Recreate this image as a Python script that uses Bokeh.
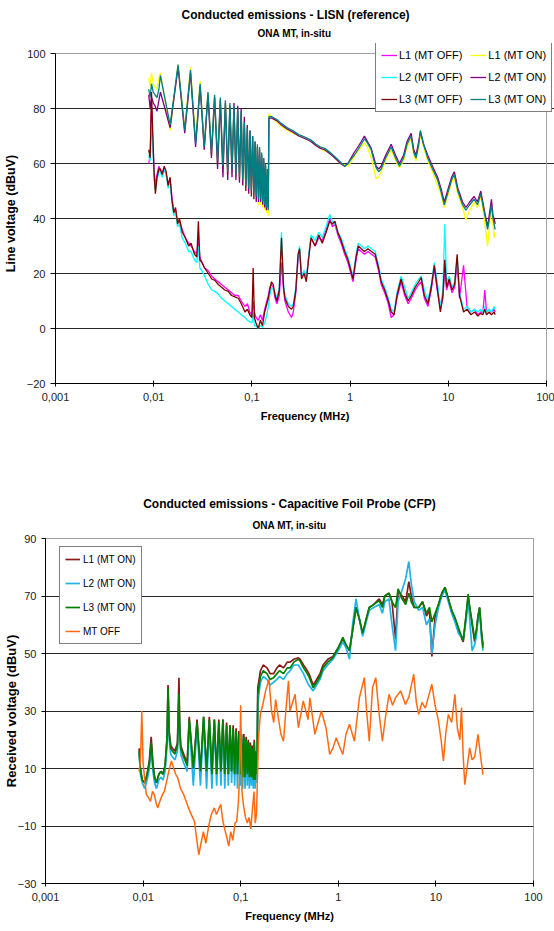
from bokeh.plotting import figure
from bokeh.models import FixedTicker, Legend, LegendItem, Title, CustomJSTickFormatter
from bokeh.layouts import column
from bokeh.embed import file_html
from bokeh.resources import INLINE

FONT = "Liberation Sans"

# ---------------- axis ticks ----------------
x_ticks = [0.001, 0.01, 0.1, 1, 10, 100]
x_tick_labels = ["0,001", "0,01", "0,1", "1", "10", "100"]
lisn_y_ticks = [-20, 0, 20, 40, 60, 80, 100]
cfp_y_ticks = [-30, -10, 10, 30, 50, 70, 90]

# ---------------- LISN chart: MT ON traces ----------------
freq_lisn_on = [
    0.0089, 0.0092, 0.0095, 0.0099, 0.0103, 0.0108, 0.0113, 0.0117,
    0.0147, 0.0177, 0.0207, 0.0237, 0.0267, 0.0297, 0.0327, 0.0357, 0.0387, 0.0417,
    0.0447, 0.0477, 0.0507, 0.0537, 0.0567, 0.0597, 0.0627, 0.0657, 0.0687, 0.0717,
    0.0747, 0.0777, 0.0807, 0.0837, 0.0867, 0.0897, 0.0927, 0.0957, 0.0987, 0.1017,
    0.1047, 0.1077, 0.1107, 0.1137, 0.1167, 0.1197, 0.1227, 0.1257, 0.1287, 0.1317,
    0.1347, 0.1377, 0.1407, 0.1437, 0.1467,
    0.149, 0.16, 0.18, 0.2, 0.23, 0.26, 0.3, 0.35, 0.4, 0.45,
    0.5, 0.55, 0.6, 0.65, 0.7, 0.8, 0.88, 0.95, 1.02, 1.1,
    1.2, 1.3, 1.4, 1.5, 1.64, 1.75, 1.84, 1.95, 2.07, 2.3,
    2.62, 2.9, 3.18, 3.5, 3.8, 4.18, 4.45, 4.69, 5.0, 5.19,
    5.6, 6.17, 6.9, 7.78, 8.4, 9.1, 10.0, 10.8, 11.5, 12.5,
    13.96, 15.1, 16.5, 18.3, 19.8, 21.4, 23.0, 25.1, 26.5, 27.5,
    28.5, 29.2, 30.0,
]
lisn_l1_on = [
    91, 88, 93, 89, 88, 87, 91, 93,
    72, 96, 73, 95, 68, 90, 65, 86, 63, 84,
    60, 83, 58, 82, 56, 81, 56, 80, 55, 79,
    54, 78, 52, 74, 50, 72, 49, 71, 48, 69,
    47, 67, 46, 66, 45, 65, 45, 63, 44, 61,
    43, 59, 42, 57, 41,
    78, 76.5, 75, 73.5, 72, 71, 70, 69, 68, 66.5,
    65.5, 64.5, 64, 63, 62, 60, 59.5, 59, 60.5, 62.5,
    64.5, 66, 67.5, 66, 62, 58, 54.5, 55, 57, 61,
    65, 61, 58.5, 61, 66, 69, 63, 61, 66, 70.5,
    66, 61, 57, 52, 49, 44, 49, 53, 55, 49,
    44, 39.5, 43, 46, 44, 48, 41, 30, 39, 43,
    38, 33, 35,
]
lisn_l2_on = [
    85, 80, 84, 82, 81, 79, 83, 86,
    73, 95, 71, 93, 66, 88, 65, 85, 62, 84,
    58, 83, 55, 82, 54, 81, 55, 82, 54, 81,
    53, 80, 52, 77, 50, 74, 49, 72, 48, 70,
    47, 68, 46, 66, 46, 65, 46, 63, 45, 62,
    44, 59, 43, 56, 44,
    76.5, 76.5, 75.5, 74, 72.5, 71.5, 70, 69, 68, 66.5,
    65.5, 65, 64, 63, 62, 60, 59, 60, 62, 64,
    66, 68, 70, 68, 65.5, 62, 59, 58, 59, 63,
    67, 63, 60, 63, 68, 71, 65, 63, 68, 71.5,
    67, 63, 59, 55, 51, 46, 51, 55, 57, 51,
    46, 44, 46, 48, 46, 50, 44, 37, 43, 47,
    41, 40, 38,
]
lisn_l3_on = [
    87, 84, 89, 86, 85, 84, 87, 92,
    74, 96, 72, 94, 67, 89, 66, 86, 64, 85,
    61, 84, 59, 83, 57, 82, 58, 81, 56, 80,
    55, 79, 54, 75, 52, 73, 51, 72, 50, 70,
    49, 68, 48, 67, 47, 66, 47, 64, 46, 62,
    45, 60, 44, 58, 43,
    77, 77, 76, 74.5, 73, 72, 70.5, 69.5, 68.5, 67,
    66, 65.5, 64.5, 63.5, 62.5, 60.5, 59, 60, 61.5, 63,
    65, 67, 69, 67.5, 65, 61, 58.5, 57, 58, 62,
    66, 62, 59, 62, 67, 70, 64, 62, 67, 72,
    67, 62, 58, 54, 50, 45, 50, 54, 56, 50,
    45, 43, 45, 47, 45, 49, 43, 36, 41, 45,
    40, 38, 36,
]

# ---------------- LISN chart: MT OFF traces ----------------
freq_lisn_off = [
    0.0089, 0.0092, 0.0095, 0.0098, 0.0101, 0.0104, 0.0108, 0.0113, 0.0117, 0.0122,
    0.0128, 0.0134, 0.014, 0.0147, 0.0153, 0.016, 0.0167, 0.0175, 0.0183, 0.0195,
    0.021, 0.0227, 0.024, 0.026, 0.0275, 0.0285, 0.0295, 0.031, 0.033, 0.036,
    0.039, 0.042, 0.0455, 0.049, 0.053, 0.0575, 0.062, 0.067, 0.0727, 0.078,
    0.085, 0.09, 0.095, 0.1, 0.103, 0.106, 0.11, 0.116, 0.122, 0.128,
    0.135, 0.142, 0.147, 0.152, 0.158, 0.165, 0.172, 0.18, 0.19, 0.2,
    0.21, 0.217, 0.235, 0.253, 0.264, 0.28, 0.295, 0.306, 0.32, 0.34,
    0.358, 0.38, 0.4, 0.44, 0.48, 0.52, 0.57, 0.62, 0.66, 0.7,
    0.75, 0.81, 0.88, 0.95, 1.0, 1.07, 1.15, 1.21, 1.3, 1.4,
    1.52, 1.65, 1.8, 1.95, 2.07, 2.25, 2.45, 2.62, 2.8, 3.0,
    3.3, 3.6, 3.9, 4.2, 4.6, 5.0, 5.3, 5.7, 6.2, 6.7,
    7.2, 7.7, 8.3, 8.8, 9.2, 9.6, 10.2, 10.9, 11.6, 12.3,
    13.0, 14.3, 15.5, 17.0, 18.5, 20.0, 21.4, 22.5, 23.5, 24.5,
    26.0, 27.5, 29.2, 30.0,
]
lisn_l1_off = [
    60, 63, 80, 68, 57, 52, 56, 59, 57, 57,
    58, 56, 53, 54, 48, 43, 43, 39, 39, 36,
    33, 31, 30, 28, 27, 33, 26, 24, 22, 21,
    19, 18, 17, 16, 15, 14, 13, 12, 12, 10,
    8, 9, 6, 5, 10, 6, 4, 3, 5, 3,
    7, 10, 12, 15, 16, 15, 11, 9, 12, 24,
    14, 10, 6, 4, 6, 13, 25, 28, 19, 21,
    18, 27, 33, 30, 33, 32, 36, 40, 37, 38,
    34, 31, 27, 24, 21, 17, 25, 29, 28, 27,
    28, 27, 26, 21, 16, 13, 9, 4, 5, 11,
    17, 12, 9, 11, 14, 16, 17, 11, 8, 14,
    22, 14, 7, 11, 22, 14, 17, 13, 15, 24,
    11, 23, 8, 6, 7, 5, 6, 6, 14, 6,
    7, 6, 7, 6,
]
lisn_l2_off = [
    63, 61, 75, 66, 55, 50, 54, 57, 57, 55,
    58, 56, 51, 54, 46, 41, 42, 37, 38, 33,
    31, 28, 28, 25, 24, 30, 22, 21, 19, 16,
    14, 13.5, 12.5, 11, 10, 9, 8, 7, 6, 5,
    4, 3, 2.5, 2, 6, 1, 1, 0, 1, 0.5,
    2, 5, 8, 12, 15, 14, 13, 11, 15, 35,
    16, 12, 9, 8, 9, 15, 26, 30, 19, 21,
    18, 27, 34, 32, 35, 33, 37, 41.5, 39, 38,
    35, 33, 29, 26, 23, 19, 27, 31, 30, 29,
    30, 29, 28, 23, 18, 15, 11, 7, 6, 13,
    19, 15, 11, 13, 16, 18, 19, 14, 10, 16,
    24, 17, 8, 14, 38, 17, 19, 15, 17, 26,
    13, 7, 8, 6, 7, 6, 7, 6, 8, 6,
    7, 6, 8, 7,
]
lisn_l3_off = [
    65, 62, 86, 70, 56, 49, 55, 58, 58, 56,
    59, 57, 52, 55, 47, 42, 44, 38, 40, 35,
    33, 30, 31, 27, 26, 39, 25, 24, 22, 20,
    18, 17.5, 16, 15, 14, 13.5, 12, 11.5, 11, 9,
    6, 7, 5, 4, 22, 4, 2, 0, 3, 1,
    6, 9, 11, 14, 17, 16, 12, 10, 14, 33,
    15, 11, 8, 7, 8, 14, 27, 29, 18, 20,
    17, 26, 33, 30, 34, 31, 35, 39, 38, 39,
    35, 32, 28, 25, 22, 18, 26, 30, 29, 28,
    29, 28, 27, 22, 17, 14, 10, 6, 5, 12,
    18, 13, 10, 12, 15, 17, 18.5, 12, 9, 15,
    23, 15, 6, 12, 25, 15, 18, 14, 16, 27,
    12, 6, 7, 5, 6, 4.5, 5.5, 5, 7, 5,
    6, 5, 6, 5,
]

# ---------------- CFP chart: MT ON traces ----------------
freq_cfp_on = [
    0.0091, 0.0094, 0.0098, 0.0104, 0.011, 0.0116, 0.0121, 0.0126, 0.0131, 0.0137,
    0.0145, 0.0152, 0.016, 0.0168, 0.0176, 0.018, 0.0185, 0.0192, 0.02, 0.0212,
    0.0225, 0.0233, 0.0237, 0.0243, 0.026, 0.0283,
    0.0297, 0.0327, 0.0357, 0.0387, 0.0417, 0.0447, 0.0477, 0.0507, 0.0537, 0.0567,
    0.0597, 0.0627, 0.0657, 0.0687, 0.0717, 0.0747, 0.0777, 0.0807, 0.0837, 0.0867,
    0.0897, 0.0927, 0.0957, 0.0987, 0.1017, 0.1047, 0.1077, 0.1107, 0.1137, 0.1167,
    0.1197, 0.1227, 0.1257, 0.1287, 0.1317, 0.1347, 0.1377, 0.1407, 0.1437, 0.1467,
    0.1497, 0.1594, 0.17, 0.186, 0.2, 0.2175, 0.235, 0.25, 0.2746, 0.3,
    0.3211, 0.35, 0.3897, 0.4055, 0.44, 0.48, 0.5, 0.5528, 0.6, 0.65,
    0.698, 0.78, 0.8816, 1.0, 1.113, 1.2, 1.302, 1.4, 1.519, 1.644,
    1.775, 1.9, 2.076, 2.3, 2.62, 2.83, 3.0, 3.3, 3.55, 3.86,
    4.1, 4.5, 4.9, 5.278, 5.6, 6.0, 6.66, 7.3, 8.0, 8.6,
    9.09, 9.82, 10.63, 11.5, 12.4, 13.42, 14.5, 15.65, 17.0, 19.04,
    20.5, 21.4, 22.2, 23.5, 24.96, 26.0, 27.02, 28.04, 29.2, 30.36,
]
cfp_l1_on = [
    17, 10, 6, 5, 8, 13, 21, 12, 7, 5,
    8, 9, 8, 11, 21, 39, 23, 18, 17, 16,
    19, 41.6, 26, 18, 15, 12,
    28, 10, 27, 9, 28, 9, 28, 8, 27, 8,
    27, 9, 27, 8, 26, 8, 25, 9, 25, 8,
    24, 8, 23, 8, 22, 7, 22, 7, 21, 8,
    20, 7, 19, 7, 18, 6, 20, 6, 16, 8,
    38, 44, 46, 45, 43, 43, 45, 46, 45, 47,
    47, 48, 48.5, 48, 46, 44, 43, 39, 41, 43,
    46, 48, 49, 52, 55, 53, 51, 58, 66, 62,
    57, 61, 66, 67, 69, 67, 70, 71, 68, 55,
    72, 70, 68, 75, 70, 66, 66, 68, 63, 65,
    49, 63, 67, 71, 73, 69, 65, 62, 58, 54,
    64, 70, 66, 60, 54, 58, 63, 66, 58, 53,
]
cfp_l2_on = [
    15, 8, 5, 3, 6, 10, 17, 9, 5, 3,
    6, 7, 6, 9, 18, 36, 20, 15, 14, 13,
    16, 33, 22, 15, 12, 9,
    26, 4, 25, 4, 27, 3, 26, 3, 26, 4,
    25, 4, 26, 3, 24, 4, 24, 5, 23, 4,
    22, 3, 21, 4, 21, 3, 20, 3, 19, 4,
    18, 3, 17, 4, 16, 3, 18, 3, 14, 5,
    33, 40, 42, 41, 39, 40, 41, 42, 41, 43,
    44, 46, 46, 45, 43, 40, 39, 37, 39, 41,
    44, 46, 48, 51, 54, 52, 48, 60, 69, 62,
    56, 60, 65, 66, 67, 64, 68, 69, 60, 51,
    68, 72, 76, 82, 74, 68, 65, 66, 60, 62,
    50, 60, 66, 70, 72, 68, 64, 61, 57, 55,
    62, 69, 62, 51, 53, 56, 62, 65, 56, 51,
]
cfp_l3_on = [
    16, 9, 6, 5, 8, 12, 19, 11, 7, 5,
    8, 9, 8, 11, 20, 38, 22, 17, 16, 15,
    18, 36, 24, 17, 14, 11,
    27, 10, 26, 9, 28, 9, 27, 8, 27, 8,
    26, 9, 27, 8, 25, 8, 25, 9, 24, 8,
    23, 8, 22, 8, 22, 7, 21, 7, 20, 8,
    19, 7, 18, 7, 17, 6, 19, 6, 15, 8,
    36, 42, 44, 43, 41, 41.6, 43, 44, 43, 45,
    45, 47, 48, 47.4, 45, 43, 42, 38.1, 40, 42,
    45, 47, 48.6, 52, 55.6, 53, 51, 58, 66, 62,
    57, 61, 66, 67, 68.4, 66, 70, 71, 68, 66,
    72.5, 69, 67, 71, 68, 66, 66, 68, 64, 66,
    61, 64, 67, 71, 73, 69, 65, 62.6, 59, 54.4,
    64, 70.7, 66, 61, 55, 58, 63, 66, 58, 52,
]

# ---------------- CFP chart: MT OFF trace ----------------
freq_cfp_off = [
    0.0091, 0.0094, 0.0097, 0.01, 0.0104, 0.0108, 0.0113, 0.0119, 0.0125, 0.013,
    0.0136, 0.0141, 0.015, 0.0158, 0.0165, 0.0173, 0.0183, 0.0195, 0.0206, 0.0216,
    0.0226, 0.0242, 0.026, 0.028, 0.0302, 0.0336, 0.0352, 0.0372, 0.0392, 0.0415,
    0.044, 0.047, 0.05, 0.0536, 0.0565, 0.0595, 0.0625, 0.0655, 0.0685, 0.072,
    0.0755, 0.079, 0.083, 0.0875, 0.091, 0.0945, 0.097, 0.1, 0.103, 0.107,
    0.112, 0.117, 0.122, 0.127, 0.132, 0.137, 0.141, 0.145, 0.148, 0.152,
    0.159, 0.168, 0.18, 0.195, 0.207, 0.218, 0.228, 0.242, 0.258, 0.2746,
    0.29, 0.3087, 0.32, 0.3608, 0.39, 0.4378, 0.49, 0.512, 0.5752, 0.671,
    0.75, 0.8165, 0.88, 0.952, 1.02, 1.113, 1.2, 1.302, 1.463, 1.644,
    1.847, 1.95, 2.076, 2.242, 2.421, 2.6, 2.83, 3.05, 3.31, 3.6,
    3.86, 4.35, 4.875, 5.3, 5.93, 6.3, 6.66, 7.2, 7.8, 8.4,
    9.09, 9.8, 10.63, 11.3, 11.94, 12.6, 13.42, 14.5, 15.65, 16.6,
    17.6, 18.3, 19.0, 19.76, 20.8, 22.2, 23.5, 24.96, 26.0, 27.02,
    28.5, 30.36,
]
cfp_mt_off = [
    9, 13, 30, 12, 6, 1, 0, -1.4, 2, 1,
    -2, -3.7, -1, 1, 2, 5, 9, 12.6, 10, 8,
    6.8, 3, 1, -2, -5, -8.4, -14, -20, -16, -12,
    -16, -10, -6, -3.7, -6, -4, -2.5, -8, -11, -14,
    -17, -12, -15, -9, -8.4, -2, 5.6, 32, 2, -3,
    -7, -9, -7, -11, -4, 2, -9, -6, 5, 20,
    29, 32, 37, 41, 30, 26, 34, 28, 22, 19.5,
    30, 40.5, 30, 35.8, 24.2, 33.5, 27, 34.6, 21.9, 30,
    24, 14.9, 17, 20.7, 18, 14.9, 22, 25.4, 19.5, 34.6,
    41.6, 30, 19.5, 38.1, 41.6, 30, 19.5, 28, 35.8, 32,
    34.6, 37, 32.3, 35, 42.8, 33, 28.8, 33, 31, 35,
    39.3, 32, 26.5, 20, 12.6, 22, 28.8, 26, 35.8, 24,
    20, 31.2, 15, 4.4, 10, 17.2, 13, 14, 18, 21.9,
    15, 7.9,
]

FRAME_GRAY = "#a0a0a0"


def style(p, yticks):
    p.background_fill_color = "white"
    p.border_fill_color = "white"
    # each chart keeps its own plot-area geometry (no alignment across the column)
    if "frame_align" in p.properties():
        p.frame_align = False
    p.xaxis.ticker = FixedTicker(ticks=x_ticks)
    p.xaxis.formatter = CustomJSTickFormatter(
        args=dict(tvals=x_ticks, tlabs=x_tick_labels),
        code="""
        for (let i = 0; i < tvals.length; i++) {
            if (Math.abs(Math.log10(tvals[i]) - Math.log10(tick)) < 1e-6) return tlabs[i];
        }
        return "";
        """)
    p.yaxis.ticker = FixedTicker(ticks=yticks)
    for ax in (p.xaxis[0], p.yaxis[0]):
        ax.axis_line_color = "black"
        ax.major_tick_line_color = "black"
        ax.minor_tick_line_color = None
        ax.major_label_text_font = FONT
        ax.major_label_text_font_size = "11px"
        ax.major_label_text_color = "#222222"
        ax.axis_label_text_font = FONT
        ax.axis_label_text_font_size = "11px"
        ax.axis_label_text_font_style = "bold"
        ax.axis_label_text_color = "black"
    p.xaxis.major_tick_in = 3
    p.xaxis.major_tick_out = 3
    p.xaxis.major_label_standoff = 6
    p.xaxis.axis_label_standoff = 6
    p.yaxis.major_tick_in = 0
    p.yaxis.major_tick_out = 5
    p.yaxis.major_label_standoff = 5
    p.yaxis.axis_label_standoff = 3
    p.xgrid.grid_line_color = None
    # inner gridlines black; the top edge is the grey plot-area border
    p.ygrid.ticker = FixedTicker(ticks=yticks[1:-1])
    p.ygrid.grid_line_color = "black"
    p.ygrid.grid_line_width = 1
    p.ygrid.grid_line_alpha = 0.85


def add_titles(p, main, sub, sub_standoff, align="center", main_offset=0, sub_offset=0):
    p.add_layout(Title(text=sub, align=align, text_font=FONT, text_font_size="10px",
                       text_font_style="bold", text_color="black", offset=sub_offset,
                       standoff=sub_standoff), "above")
    p.add_layout(Title(text=main, align=align, text_font=FONT, text_font_size="12px",
                       text_font_style="bold", text_color="black", offset=main_offset,
                       standoff=0), "above")


# ================= top: LISN =================
# The frame is widened slightly (right and top) so the legend, which overhangs the
# plot area as in the reference, is not clipped; axes are bounded to the real area.
PX_PER_DECADE = 98.6
PX_PER_UNIT = 2.75
EXTRA_RIGHT = 8
EXTRA_TOP = 10
x_end_top = 10 ** (2 + EXTRA_RIGHT / PX_PER_DECADE)
y_end_top = lisn_y_ticks[-1] + EXTRA_TOP / PX_PER_UNIT

p1 = figure(width=554, height=465, x_axis_type="log", x_range=(0.001, x_end_top),
            y_range=(-20, y_end_top), output_backend="svg", toolbar_location=None,
            title=None, min_border_left=53, min_border_right=0,
            min_border_top=43, min_border_bottom=82)
style(p1, lisn_y_ticks)
p1.outline_line_color = None
p1.xaxis.bounds = (x_ticks[0], x_ticks[-1])
p1.yaxis.bounds = (lisn_y_ticks[0], lisn_y_ticks[-1])
p1.xaxis.axis_label = "Frequency (MHz)"
p1.yaxis.axis_label = "Line voltage (dBuV)"
p1.yaxis.axis_label_text_font_size = "12.5px"
p1.yaxis.axis_label_standoff = 6
add_titles(p1, "Conducted emissions - LISN (reference)", "ONA MT, in-situ", 9,
           align="left", main_offset=126, sub_offset=202)

# grey plot-area border: top and right edges
p1.segment(x0=[x_ticks[0], x_ticks[-1]], y0=[lisn_y_ticks[-1], lisn_y_ticks[0]],
           x1=[x_ticks[-1], x_ticks[-1]], y1=[lisn_y_ticks[-1], lisn_y_ticks[-1]],
           line_color=FRAME_GRAY, line_width=1)

lw = 1.3
r_l1_on = p1.line(freq_lisn_on, lisn_l1_on, line_color="#FFFF00", line_width=lw)
r_l2_on = p1.line(freq_lisn_on, lisn_l2_on, line_color="#800080", line_width=lw)
r_l3_on = p1.line(freq_lisn_on, lisn_l3_on, line_color="#008080", line_width=lw)
r_l1_off = p1.line(freq_lisn_off, lisn_l1_off, line_color="#FF00FF", line_width=lw)
r_l2_off = p1.line(freq_lisn_off, lisn_l2_off, line_color="#00FFFF", line_width=lw)
r_l3_off = p1.line(freq_lisn_off, lisn_l3_off, line_color="#800000", line_width=lw)

leg1 = Legend(items=[
    LegendItem(label="L1 (MT OFF)", renderers=[r_l1_off]),
    LegendItem(label="L2 (MT OFF)", renderers=[r_l2_off]),
    LegendItem(label="L3 (MT OFF)", renderers=[r_l3_off]),
    LegendItem(label="L1 (MT ON)", renderers=[r_l1_on]),
    LegendItem(label="L2 (MT ON)", renderers=[r_l2_on]),
    LegendItem(label="L3 (MT ON)", renderers=[r_l3_on]),
], ncols=2, location=(320, 271))
leg1.label_text_font = FONT
leg1.label_text_font_size = "11px"
leg1.label_text_color = "black"
leg1.border_line_color = "black"
leg1.border_line_width = 1
leg1.background_fill_color = "white"
leg1.background_fill_alpha = 1
leg1.glyph_width = 16
leg1.glyph_height = 14
leg1.label_height = 14
leg1.label_standoff = 2
leg1.spacing = 8
leg1.padding = 5
leg1.margin = 0
p1.add_layout(leg1)

# ================= bottom: CFP =================
p2 = figure(width=554, height=466, x_axis_type="log", x_range=(0.001, 100),
            y_range=(-30, 90), output_backend="svg", toolbar_location=None,
            title=None, min_border_left=39, min_border_right=21,
            min_border_top=73, min_border_bottom=48)
style(p2, cfp_y_ticks)
p2.outline_line_color = FRAME_GRAY
p2.outline_line_width = 1
p2.xaxis.axis_label = "Frequency (MHz)"
p2.yaxis.axis_label = "Received voltage (dBuV)"
p2.yaxis.axis_label_text_font_size = "13px"
p2.yaxis.major_tick_out = 4
p2.yaxis.major_label_standoff = 5
p2.yaxis.axis_label_standoff = -4
add_titles(p2, "Conducted emissions - Capacitive Foil Probe (CFP)", "ONA MT, in-situ", 15)

c_l1 = p2.line(freq_cfp_on, cfp_l1_on, line_color="#8B1A1A", line_width=1.7)
c_l2 = p2.line(freq_cfp_on, cfp_l2_on, line_color="#1EB4E6", line_width=1.7)
c_l3 = p2.line(freq_cfp_on, cfp_l3_on, line_color="#008000", line_width=1.7)
c_off = p2.line(freq_cfp_off, cfp_mt_off, line_color="#FF6A10", line_width=1.5)

leg2 = Legend(items=[
    LegendItem(label="L1 (MT ON)", renderers=[c_l1]),
    LegendItem(label="L2 (MT ON)", renderers=[c_l2]),
    LegendItem(label="L3 (MT ON)", renderers=[c_l3]),
    LegendItem(label="MT OFF", renderers=[c_off]),
], location=(14, 239))
leg2.label_text_font = FONT
leg2.label_text_font_size = "10px"
leg2.label_text_color = "black"
leg2.border_line_color = "black"
leg2.border_line_width = 1
leg2.background_fill_color = "white"
leg2.background_fill_alpha = 1
leg2.glyph_width = 15
leg2.glyph_height = 14
leg2.label_height = 14
leg2.label_standoff = 3
leg2.spacing = 10
leg2.padding = 5
leg2.margin = 0
p2.add_layout(leg2)

layout = column(p1, p2, spacing=0)
open("out.html", "w").write(file_html(layout, INLINE))
